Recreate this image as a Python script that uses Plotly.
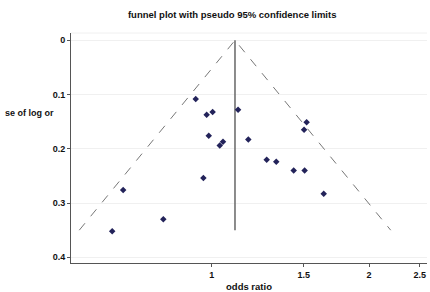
import numpy as np
import plotly.graph_objects as go

# study data
odds_ratio = [0.932, 0.978, 1.004, 1.123, 0.987, 1.175, 1.051, 1.036, 0.964, 0.677,
              0.808, 0.645, 1.274, 1.329, 1.435, 1.506, 1.519, 1.502, 1.638]
se_log_or = [0.108, 0.137, 0.132, 0.128, 0.176, 0.183, 0.187, 0.194, 0.254, 0.276,
             0.330, 0.352, 0.220, 0.224, 0.240, 0.240, 0.151, 0.165, 0.283]
pooled_or = 1.108
se_max = 0.35
x_ticks = [1, 1.5, 2, 2.5]
x_tick_labels = ["1", "1.5", "2", "2.5"]
y_ticks = [0, 0.1, 0.2, 0.3, 0.4]
y_tick_labels = ["0", "0.1", "0.2", "0.3", "0.4"]

ln_p = np.log(pooled_or)
se_line = [se_max, 0.0, se_max]
or_line = [np.exp(ln_p - 1.96 * se_max), pooled_or, np.exp(ln_p + 1.96 * se_max)]

FONT = "Liberation Sans, Arial, sans-serif"
fig = go.Figure()
fig.add_trace(go.Scatter(x=or_line, y=se_line, mode="lines",
                         line=dict(color="#777777", width=1, dash="dash"),
                         hoverinfo="skip", showlegend=False))
fig.add_trace(go.Scatter(x=[pooled_or, pooled_or], y=[0, se_max], mode="lines",
                         line=dict(color="#666666", width=1.5),
                         hoverinfo="skip", showlegend=False))
fig.add_trace(go.Scatter(x=odds_ratio, y=se_log_or, mode="markers",
                         marker=dict(symbol="diamond", size=5, color="#23235a"),
                         showlegend=False))

fig.update_layout(
    width=430, height=292,
    margin=dict(l=71, r=3, t=33, b=29, autoexpand=False),
    paper_bgcolor="white", plot_bgcolor="white",
    font=dict(family=FONT, size=9, color="#111111"),
    title=dict(text="<b>funnel plot with pseudo 95% confidence limits</b>",
               x=0.54, xanchor="center", y=0.95, yanchor="middle",
               font=dict(size=9.5, family=FONT, color="#111111")),
)
fig.update_xaxes(type="log", range=[-0.2692, 0.4119], automargin=False,
                 tickvals=x_ticks, ticktext=["<b>%s</b>" % t for t in x_tick_labels],
                 ticks="outside", ticklen=3, tickcolor="#555555",
                 showline=True, linecolor="#555555", linewidth=1,
                 showgrid=False, zeroline=False,
                 title=dict(text="<b>odds ratio</b>", standoff=4, font=dict(size=9.5)))
fig.update_yaxes(range=[0.4105, -0.0135], automargin=False,
                 tickvals=y_ticks, ticktext=["<b>%s</b>" % t for t in y_tick_labels],
                 ticks="outside", ticklen=3, tickcolor="#555555",
                 showline=True, linecolor="#555555", linewidth=1,
                 showgrid=True, gridcolor="#f0f0f0", gridwidth=1, zeroline=False)
fig.add_annotation(text="<b>se of log or</b>", xref="paper", yref="paper",
                   x=-0.192, y=0.652, xanchor="left", yanchor="middle",
                   showarrow=False, font=dict(size=9, family=FONT, color="#111111"))
fig.add_shape(type="line", xref="paper", yref="paper", x0=0, x1=1, y0=1, y1=1,
              line=dict(color="#f0f0f0", width=1))
fig.write_html("out.html", config={"displayModeBar": False},
               post_script="document.body.style.margin='0';")
